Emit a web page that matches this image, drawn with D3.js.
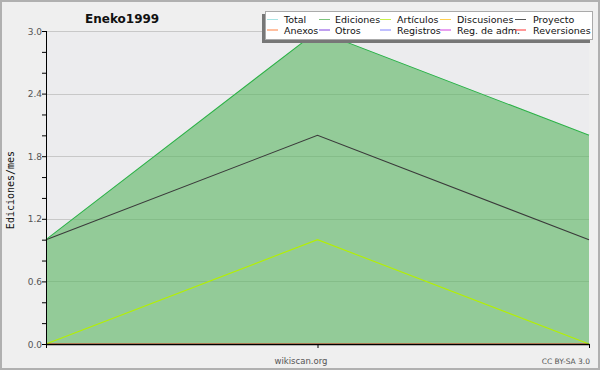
<!DOCTYPE html>
<html><head><meta charset="utf-8">
<script src="https://cdn.jsdelivr.net/npm/d3@7"></script>
<style>body{margin:0;background:#fff}svg{display:block}</style>
</head><body>
<script>
const title = "Eneko1999";
const yLabel = "Ediciones/mes";
const months = ["m1", "m2", "m3"];
const seriesNames = ["Total","Ediciones","Artículos","Discusiones","Proyecto","Anexos","Otros","Registros","Reg. de adm.","Reversiones"];
const seriesColors = ["#a8e4e4","#7cc47c","#c8f04a","#ffd050","#555555","#ff8040","#8040e0","#8080ff","#d040e0","#ff3030"];
const totalValues = [1, 3, 2];
const edicionesValues = [1, 3, 2];
const articulosValues = [0, 1, 0];
const proyectoValues = [1, 2, 1];
const zeroValues = [0, 0, 0];
const yTicks = [0, 0.6, 1.2, 1.8, 2.4, 3.0];
const yMinorTicks = [0.2,0.4,0.8,1.0,1.4,1.6,2.0,2.2,2.6,2.8];

const W = 600, H = 370;
const svg = d3.select("body").append("svg").attr("width", W).attr("height", H);
svg.append("rect").attr("x",1).attr("y",1).attr("width",W-2).attr("height",H-2)
  .attr("fill","#efefef").attr("stroke","#b0b0b0").attr("stroke-width",2);

const L = 46, R = 589, T = 31, B = 344;
svg.append("rect").attr("x",L).attr("y",T).attr("width",R-L).attr("height",B-T).attr("fill","#ececee");

const x = d3.scalePoint().domain(months).range([L, R]);
const y = d3.scaleLinear().domain([0, 3]).range([B, T]);

// grid
svg.append("g").selectAll("line").data(yTicks.slice(1)).join("line")
  .attr("x1", L).attr("x2", R).attr("y1", d=>Math.round(y(d))+0.5).attr("y2", d=>Math.round(y(d))+0.5)
  .attr("stroke","#c8c8c8").attr("stroke-width",1);

// area
const area = d3.area().x((d,i)=>x(months[i])).y0(B).y1(d=>y(d));
svg.append("path").datum(edicionesValues).attr("d", area).attr("fill","#58b55f").attr("fill-opacity",0.6);

const line = d3.line().x((d,i)=>x(months[i])).y(d=>y(d));
const drawn = [
  [zeroValues, seriesColors[9]], [zeroValues, seriesColors[8]], [zeroValues, seriesColors[7]],
  [zeroValues, seriesColors[6]], [zeroValues, seriesColors[5]], [zeroValues, seriesColors[3]],
  [totalValues, seriesColors[0]],
  [proyectoValues, "#3a3a3a"], [articulosValues, "#b4f000"], [edicionesValues, "#34b040"]
];
drawn.forEach(([vals,c])=>{
  svg.append("path").datum(vals).attr("d", line).attr("fill","none").attr("stroke",c).attr("stroke-width",1.1);
});

// axes
const yAxis = d3.axisLeft(y).tickValues(yTicks).tickSize(4).tickFormat(d3.format(".1f"));
const gy = svg.append("g").attr("transform",`translate(${L},0)`).call(yAxis);
gy.select(".domain").attr("stroke","#000").attr("d", `M0.5,${T}V${B+4}`);
gy.selectAll(".tick line").attr("stroke","#000");
gy.selectAll(".tick text").attr("fill","#555").attr("font-family","DejaVu Sans, sans-serif").attr("font-size",9).attr("x",-4).attr("dy","0.35em");
svg.append("g").attr("transform",`translate(${L},0)`).call(d3.axisLeft(y).tickValues(yMinorTicks).tickSize(4).tickFormat(""))
  .call(g=>{g.select(".domain").remove(); g.selectAll("line").attr("stroke","#000");});

const xAxis = d3.axisBottom(x).tickSize(4).tickFormat("");
const gx = svg.append("g").attr("transform",`translate(0,${B})`).call(xAxis);
gx.select(".domain").attr("stroke","#000").attr("stroke-width",1.5).attr("d",`M${L},0.5H${R+0.5}`);
gx.selectAll(".tick line").attr("stroke","#000");

// title
svg.append("text").attr("x",85).attr("y",23).text(title)
  .attr("font-family","DejaVu Sans, sans-serif").attr("font-weight","bold").attr("font-size",12).attr("fill","#111");

// y label
svg.append("text").attr("transform","translate(14,190) rotate(-90)").attr("text-anchor","middle").text(yLabel)
  .attr("font-family","DejaVu Sans Mono, monospace").attr("font-size",10).attr("fill","#111");

// footer
svg.append("text").attr("x",301).attr("y",364).attr("text-anchor","middle").text("wikiscan.org")
  .attr("font-family","DejaVu Sans, sans-serif").attr("font-size",8.5).attr("fill","#555");
svg.append("text").attr("x",590).attr("y",364).attr("text-anchor","end").text("CC BY-SA 3.0")
  .attr("font-family","DejaVu Sans, sans-serif").attr("font-size",7.5).attr("fill","#555");

// legend
const lg = svg.append("g");
lg.append("rect").attr("x",262).attr("y",14).attr("width",328).attr("height",29).attr("fill","#777");
lg.append("rect").attr("x",265.5).attr("y",11.5).attr("width",327).attr("height",28).attr("fill","#fff").attr("stroke","#aaa");
const colLineX = [267, 319, 380, 440, 515];
const colTextX = [284, 335, 397, 457, 533];
seriesNames.forEach((n,i)=>{
  const col = i%5, row = Math.floor(i/5);
  const ly = 19.5 + row*10.5;
  lg.append("line").attr("x1",colLineX[col]).attr("x2",colLineX[col]+11).attr("y1",ly).attr("y2",ly).attr("stroke",seriesColors[i]).attr("stroke-width",1);
  lg.append("text").attr("x",colTextX[col]).attr("y",ly+3.5).text(n)
    .attr("font-family","DejaVu Sans, sans-serif").attr("font-size",9.5).attr("fill","#111");
});
</script>
</body></html>
